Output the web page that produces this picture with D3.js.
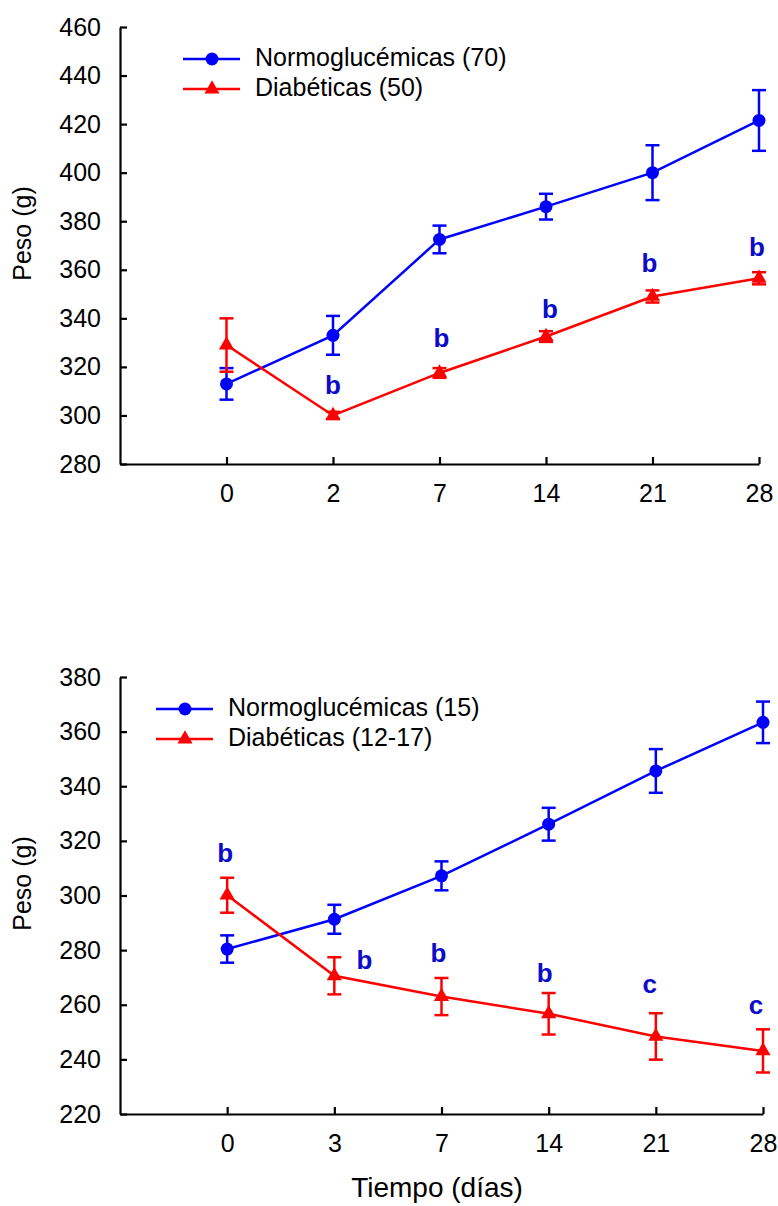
<!DOCTYPE html>
<html>
<head>
<meta charset="utf-8">
<script src="https://cdn.jsdelivr.net/npm/d3@7"></script>
<style>
  html, body { margin: 0; padding: 0; background: #fff; }
  svg { display: block; font-family: "Liberation Sans", Arial, sans-serif; }
</style>
</head>
<body>
<svg id="chart" width="778" height="1206"></svg>
<script>
// ---------- DATA ----------
// Top panel
const daysTop = ["0", "2", "7", "14", "21", "28"];
const yTicksTop = [280, 300, 320, 340, 360, 380, 400, 420, 440, 460];
const normoTop = [313, 333, 372.5, 386, 400, 421.5];
const normoTopErr = [6.5, 8, 5.7, 5.3, 11.3, 12.5];
const diabTop = [329, 300, 317.5, 332.5, 349, 356.5];
const diabTopErr = [11, 1.5, 2, 2.2, 2.5, 2.5];
const lettersTop = ["", "b", "b", "b", "b", "b"];
const letterValTop = [null, 311.7, 331, 343, 362, 368.5];
const legendTop = ["Normoglucémicas (70)", "Diabéticas (50)"];

// Bottom panel
const daysBot = ["0", "3", "7", "14", "21", "28"];
const yTicksBot = [220, 240, 260, 280, 300, 320, 340, 360, 380];
const normoBot = [280.4, 291.3, 307.2, 326.1, 345.6, 363.4];
const normoBotErr = [5, 5.3, 5.3, 6, 8, 7.6];
const diabBot = [300.1, 270.6, 263, 256.7, 248.4, 243.1];
const diabBotErr = [6.4, 6.8, 6.8, 7.6, 8.5, 7.9];
const lettersBot = ["b", "b", "b", "b", "c", "c"];
const letterValBot = [314.8, 275.7, 278.2, 270.9, 266.9, 259.2];
const legendBot = ["Normoglucémicas (15)", "Diabéticas (12-17)"];

const yTitle = "Peso (g)";
const xTitle = "Tiempo (días)";

// ---------- STYLE ----------
const BLUE = "#0000ff", RED = "#ff0000", LETTER = "#0c0cc8";
const svg = d3.select("#chart");

function panel(cfg) {
  const g = svg.append("g");
  const x = d3.scalePoint()
    .domain(["__blank__"].concat(cfg.days))
    .range([cfg.left, cfg.right]);
  const y = d3.scaleLinear()
    .domain([cfg.yTicks[0], cfg.yTicks[cfg.yTicks.length - 1]])
    .range([cfg.bottom, cfg.top]);

  // axes
  const yAxis = d3.axisLeft(y).tickValues(cfg.yTicks)
    .tickSizeInner(-7).tickSizeOuter(0).tickPadding(19);
  const gy = g.append("g").attr("transform", `translate(${cfg.left},0)`).call(yAxis);
  const xAxis = d3.axisBottom(x).tickValues(cfg.days)
    .tickSizeInner(-7).tickSizeOuter(0).tickPadding(20);
  const gx = g.append("g").attr("transform", `translate(0,${cfg.bottom})`).call(xAxis);
  [gx, gy].forEach(a => {
    a.selectAll("path.domain").attr("stroke", "#000").attr("stroke-width", 2.2);
    a.selectAll(".tick line").attr("stroke", "#000").attr("stroke-width", 2.2);
    a.selectAll(".tick text").attr("font-size", 25).attr("fill", "#000")
      .attr("font-family", "Liberation Sans, Arial, sans-serif");
  });

  // y title
  g.append("text")
    .attr("transform", `translate(${cfg.yTitleX},${(cfg.top + cfg.bottom) / 2 - 12}) rotate(-90)`)
    .attr("text-anchor", "middle")
    .attr("dominant-baseline", "middle")
    .attr("font-size", 25)
    .text(yTitle);

  const line = d3.line().x(d => x(d.day)).y(d => y(d.v));

  function series(vals, errs, color, marker) {
    const data = cfg.days.map((d, i) => ({ day: d, v: vals[i], e: errs[i] }));
    const sg = g.append("g");
    sg.append("path").datum(data).attr("d", line)
      .attr("fill", "none").attr("stroke", color).attr("stroke-width", 2.5);
    const eb = sg.selectAll("g.eb").data(data).enter().append("g");
    eb.append("line")
      .attr("x1", d => x(d.day)).attr("x2", d => x(d.day))
      .attr("y1", d => y(d.v - d.e)).attr("y2", d => y(d.v + d.e))
      .attr("stroke", color).attr("stroke-width", 2.5);
    [1, -1].forEach(s => {
      eb.append("line")
        .attr("x1", d => x(d.day) - 7).attr("x2", d => x(d.day) + 7)
        .attr("y1", d => y(d.v + s * d.e)).attr("y2", d => y(d.v + s * d.e))
        .attr("stroke", color).attr("stroke-width", 2.5);
    });
    if (marker === "circle") {
      sg.selectAll("circle.pt").data(data).enter().append("circle")
        .attr("cx", d => x(d.day)).attr("cy", d => y(d.v)).attr("r", 6.5)
        .attr("fill", color);
    } else {
      sg.selectAll("path.pt").data(data).enter().append("path")
        .attr("d", d3.symbol().type(d3.symbolTriangle).size(100))
        .attr("transform", d => `translate(${x(d.day)},${y(d.v)})`)
        .attr("fill", color);
    }
  }
  series(cfg.normo, cfg.normoErr, BLUE, "circle");
  series(cfg.diab, cfg.diabErr, RED, "triangle");

  // significance letters
  cfg.letters.forEach((t, i) => {
    if (!t) return;
    g.append("text")
      .attr("x", x(cfg.days[i]) + cfg.letterDx[i])
      .attr("y", y(cfg.letterVal[i]))
      .attr("text-anchor", "middle")
      .attr("dominant-baseline", "middle")
      .attr("font-size", 26).attr("font-weight", "bold")
      .attr("fill", LETTER)
      .text(t);
  });

  // legend
  const lg = g.append("g");
  const items = [
    { label: cfg.legend[0], color: BLUE, marker: "circle" },
    { label: cfg.legend[1], color: RED, marker: "triangle" }
  ];
  items.forEach((it, i) => {
    const ly = cfg.legY + i * 30;
    lg.append("line").attr("x1", cfg.legX).attr("x2", cfg.legX + 57)
      .attr("y1", ly).attr("y2", ly).attr("stroke", it.color).attr("stroke-width", 2.5);
    if (it.marker === "circle") {
      lg.append("circle").attr("cx", cfg.legX + 29).attr("cy", ly).attr("r", 6.5).attr("fill", it.color);
    } else {
      lg.append("path").attr("d", d3.symbol().type(d3.symbolTriangle).size(100))
        .attr("transform", `translate(${cfg.legX + 29},${ly})`).attr("fill", it.color);
    }
    lg.append("text").attr("x", cfg.legX + 72).attr("y", ly)
      .attr("dominant-baseline", "middle").attr("font-size", 25)
      .text(it.label);
  });
}

panel({
  days: daysTop, yTicks: yTicksTop,
  normo: normoTop, normoErr: normoTopErr, diab: diabTop, diabErr: diabTopErr,
  letters: lettersTop, letterVal: letterValTop, letterDx: [0, 0, 2, 4, -3, -2],
  legend: legendTop,
  left: 120, right: 759, top: 27, bottom: 464,
  yTitleX: 24, legX: 183, legY: 59
});

panel({
  days: daysBot, yTicks: yTicksBot,
  normo: normoBot, normoErr: normoBotErr, diab: diabBot, diabErr: diabBotErr,
  letters: lettersBot, letterVal: letterValBot, letterDx: [-2, 30, -3, -4, -6, -7],
  legend: legendBot,
  left: 120, right: 763, top: 677, bottom: 1114,
  yTitleX: 24, legX: 156, legY: 709
});

svg.append("text")
  .attr("x", 437).attr("y", 1190)
  .attr("text-anchor", "middle").attr("dominant-baseline", "middle")
  .attr("font-size", 28)
  .text(xTitle);
</script>
</body>
</html>
